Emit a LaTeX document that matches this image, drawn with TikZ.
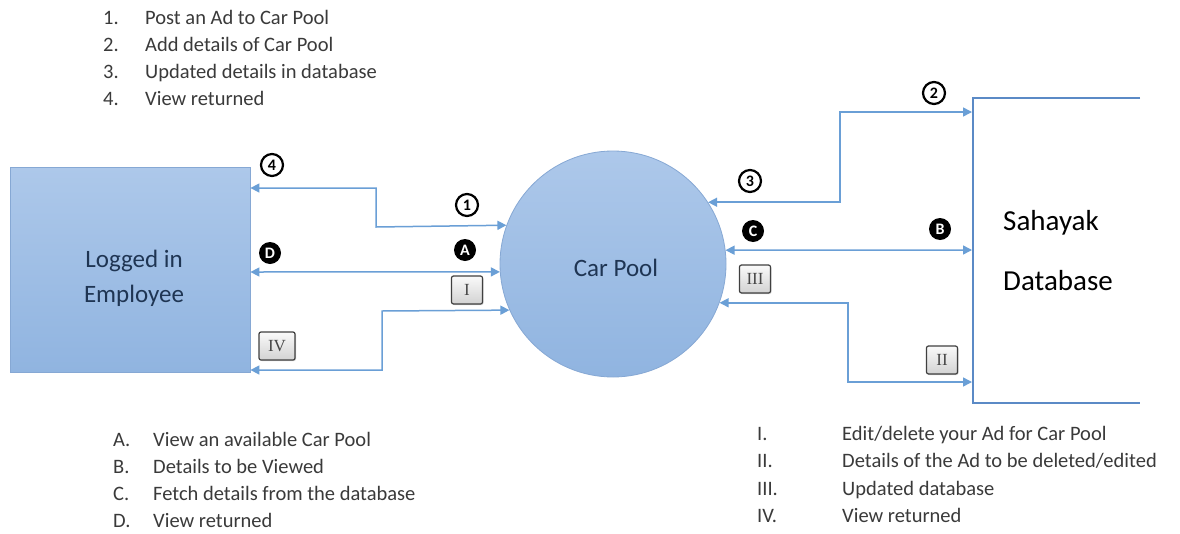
\documentclass[tikz,border=0pt]{standalone}
\usepackage{fontspec}
\setmainfont{Carlito}
\newfontfamily\romanfont{Liberation Serif}
\usetikzlibrary{arrows.meta,shadows}
\definecolor{flowblue}{HTML}{6A9FD6}
\definecolor{dbblue}{HTML}{5B8AC6}
\definecolor{shapetop}{HTML}{ADC8EA}
\definecolor{shapebot}{HTML}{90B4E0}
\definecolor{shapeedge}{HTML}{86A8D4}
\definecolor{inktext}{HTML}{1F3553}
\definecolor{listtext}{HTML}{3A3A3A}
\tikzset{
  flow/.style={draw=flowblue, line width=1.5pt,
    arrows={Triangle[length=9pt,width=9pt]-Triangle[length=9pt,width=9pt]}},
  procbox/.style={draw=shapeedge, line width=0.8pt, top color=shapetop, bottom color=shapebot,
    inner sep=0pt},
  proctext/.style={anchor=base, inner sep=0pt, text=inktext, font=\fontsize{25}{25}\selectfont},
  numlabel/.style={circle, draw=black, line width=2.2pt, fill=white, inner sep=0pt,
    minimum size=22pt, font=\bfseries\fontsize{16}{16}\selectfont},
  letlabel/.style={circle, fill=black, text=white, inner sep=0pt,
    minimum size=22pt, font=\bfseries\fontsize{16}{16}\selectfont},
  romlabel/.style={rounded corners=2pt, draw=gray!50!black, line width=1.2pt,
    top color=gray!4, bottom color=gray!35, minimum width=31pt, minimum height=28pt,
    inner sep=0pt, text=gray!55!black, font=\romanfont\fontsize{17}{17}\selectfont,
    drop shadow={shadow xshift=1pt, shadow yshift=-1pt, opacity=0.35}},
  listitem/.style={anchor=base west, inner sep=0pt, text=listtext,
    font=\fontsize{20.5}{21}\selectfont},
}
\begin{document}
\begin{tikzpicture}[x=1pt,y=-1pt]
\useasboundingbox[fill=white] (0,0) rectangle (1180,533);

% process shapes
\node[procbox, rectangle, minimum width=240pt, minimum height=205pt] (emp) at (130,269.5) {};
\node[proctext] (empt1) at (134,267) {Logged in};
\node[proctext] (empt2) at (134,302) {Employee};
\node[procbox, circle, minimum size=226pt] (pool) at (613,264) {};
\node[proctext] (poolt) at (616,276) {Car Pool};

% data store: open rectangle
\node[minimum width=167pt, minimum height=305pt, inner sep=0pt, outer sep=0pt] (db) at (1056.5,250.5) {};
\draw[dbblue, line width=2.5pt] (db.north east) -- (db.north west) -- (db.south west) -- (db.south east);
\node[anchor=base west, inner sep=0pt, font=\fontsize{29}{29}\selectfont] (dbname) at (1003,230) {Sahayak};
\node[anchor=base west, inner sep=0pt, font=\fontsize{29}{29}\selectfont] (dbname2) at (1003,290) {Database};

% flows between employee and car pool
\draw[flow] (emp.east |- 0,188) -| (376,227) -- (pool.160.9);
\draw[flow] (emp.east |- 0,272) -- (pool.184.1);
\draw[flow] (emp.east |- 0,370) -| (382,311) -- (pool.204.6);

% flows between car pool and database
\draw[flow] (pool.33.3) -| (840,112) -- ([xshift=-1pt]db.west |- 0,112);
\draw[flow] (pool.7.1) -- ([xshift=-1pt]db.west |- 0,250);
\draw[flow] (pool.340.9) -| (848,382) -- ([xshift=-1pt]db.west |- 0,382);

% flow labels
\node[numlabel] (n1) at (467,205) {1};
\node[numlabel] (n2) at (934,93) {2};
\node[numlabel] (n3) at (750,181) {3};
\node[numlabel] (n4) at (272,165) {4};
\node[letlabel] (la) at (465,250) {A};
\node[letlabel] (lb) at (940,229) {B};
\node[letlabel] (lc) at (753,231) {C};
\node[letlabel] (ld) at (270,253) {D};
\node[romlabel] (r1) at (467,290) {I};
\node[romlabel] (r2) at (942,360) {II};
\node[romlabel] (r3) at (755,279) {III};
\node[romlabel, minimum width=36pt] (r4) at (277,346) {IV};

% legends
\foreach \k/\txt [count=\i] in {1./Post an Ad to Car Pool, 2./Add details of Car Pool,
    3./Updated details in database, 4./View returned} {
  \node[listitem] (tn\i) at (103,{24+27.3*(\i-1)}) {\k};
  \node[listitem] (tt\i) at (145,{24+27.3*(\i-1)}) {\txt};
}
\foreach \k/\txt [count=\i] in {A./View an available Car Pool, B./Details to be Viewed,
    C./Fetch details from the database, D./View returned} {
  \node[listitem] (an\i) at (113,{446+27.3*(\i-1)}) {\k};
  \node[listitem] (at\i) at (153,{446+27.3*(\i-1)}) {\txt};
}
\foreach \k/\txt [count=\i] in {I./Edit{/}delete your Ad for Car Pool, II./Details of the Ad to be deleted{/}edited,
    III./Updated database, IV./View returned} {
  \node[listitem] (rn\i) at (757,{440+27.5*(\i-1)}) {\k};
  \node[listitem] (rt\i) at (842,{440+27.5*(\i-1)}) {\txt};
}
\end{tikzpicture}
\end{document}
